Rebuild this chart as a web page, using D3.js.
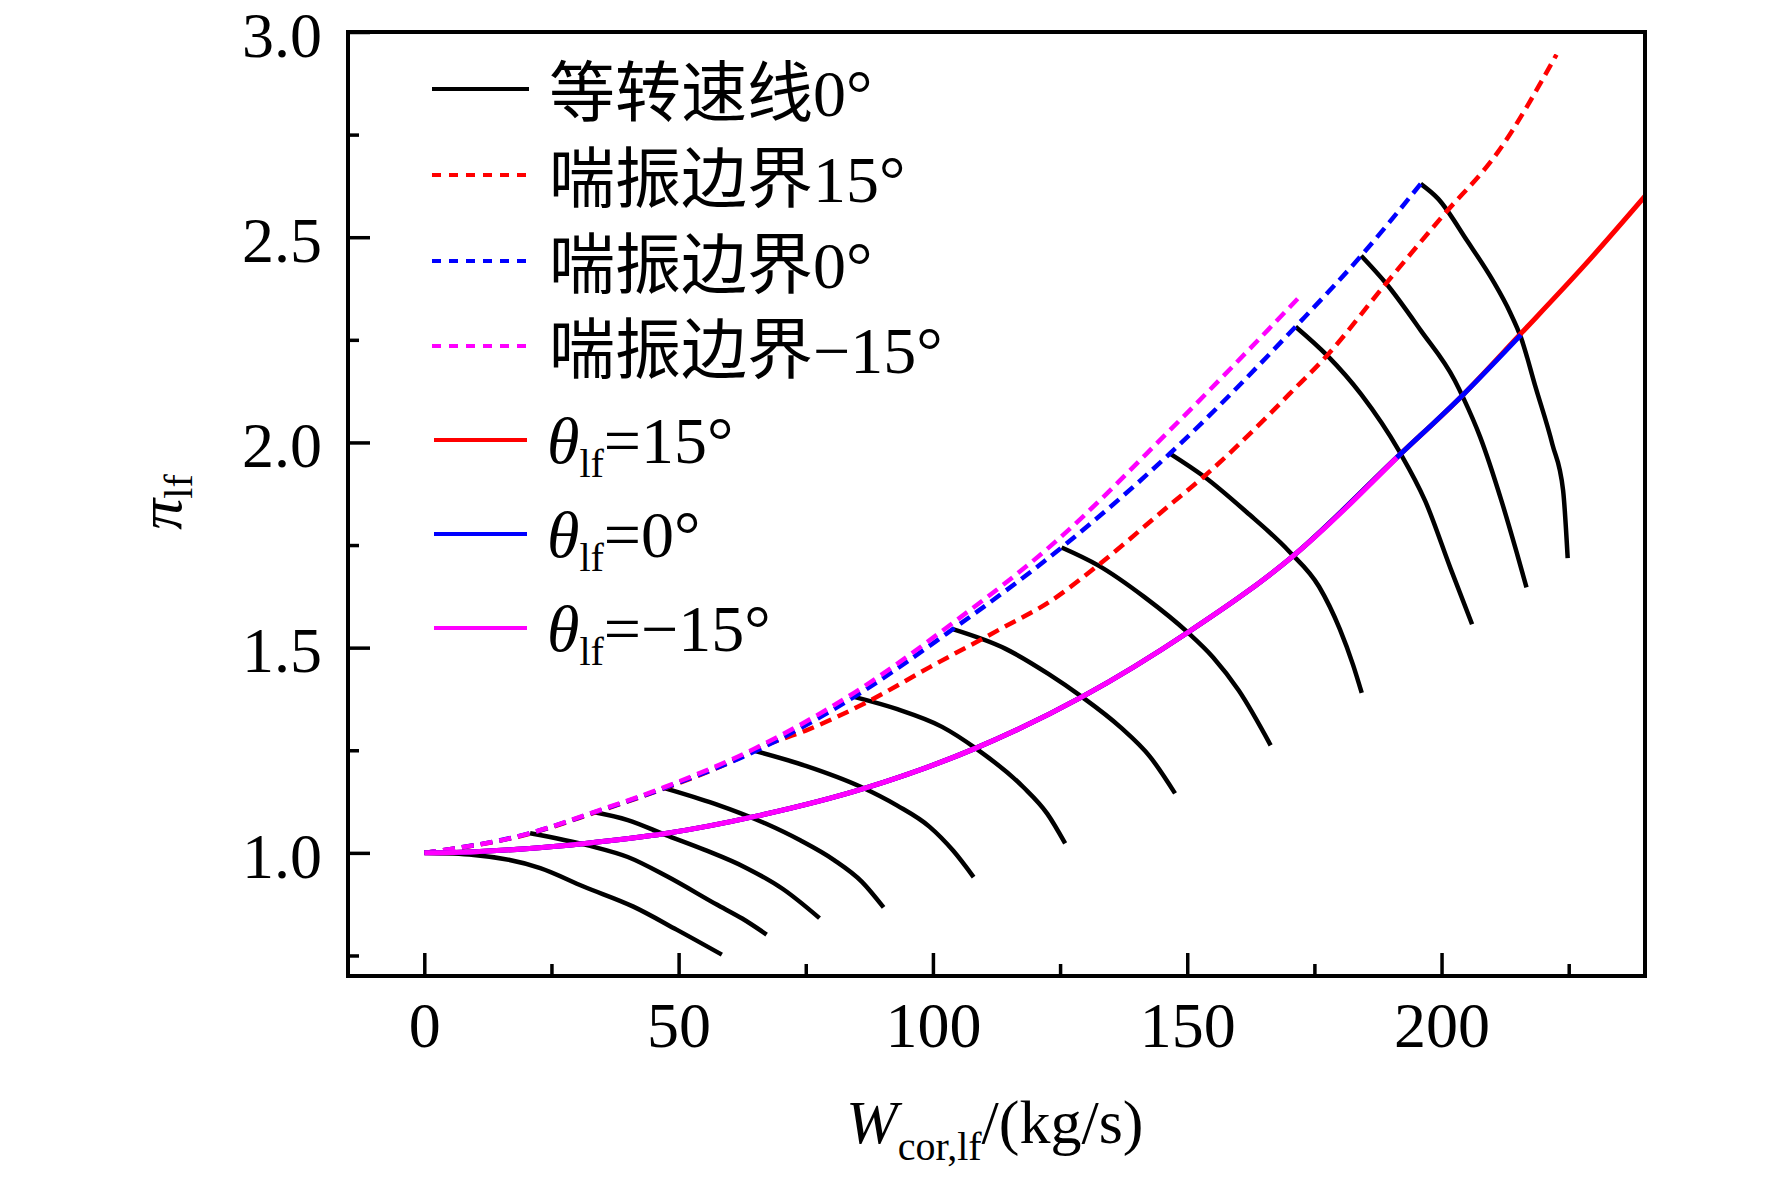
<!DOCTYPE html>
<html>
<head>
<meta charset="utf-8">
<script src="https://cdn.jsdelivr.net/npm/d3@7"></script>
<style>
  html, body { margin: 0; padding: 0; background: #fff; }
  svg { display: block; }
  text { font-family: "Liberation Serif", "Times New Roman", "Noto Sans CJK SC", serif; fill: #000; }
</style>
</head>
<body>
<svg id="chart" width="1772" height="1183"></svg>
<script>
// --- data: equal speed lines (W, pi) ---
const speedLine1  = [[0,1.0],[9.7,0.995],[22.8,0.963],[31.3,0.918],[41.1,0.869],[49.6,0.813],[58.5,0.752]];
const speedLine2  = [[20.8,1.048],[32.6,1.017],[40,0.99],[47.7,0.943],[57.5,0.874],[62.5,0.84],[67.3,0.801]];
const speedLine3  = [[33.5,1.099],[40,1.08],[47.4,1.044],[55,1.008],[63.2,0.964],[70.5,0.912],[77.7,0.841]];
const speedLine4  = [[47.2,1.158],[57,1.12],[67,1.072],[74,1.03],[80.5,0.983],[86,0.93],[90.3,0.867]];
const speedLine5  = [[65.1,1.248],[75,1.212],[85.8,1.161],[93,1.115],[99.3,1.064],[104,1.005],[108,0.941]];
const speedLine6  = [[84.5,1.38],[93,1.35],[101.8,1.307],[108.5,1.254],[117.7,1.161],[122.5,1.095],[126,1.023]];
const speedLine7  = [[103.9,1.545],[114.3,1.497],[122.7,1.436],[129.3,1.38],[136.8,1.307],[142.7,1.234],[147.6,1.145]];
const speedLine8  = [[125.3,1.744],[132.4,1.701],[141.6,1.623],[150.1,1.537],[155.1,1.476],[160.1,1.396],[166.4,1.262]];
const speedLine9  = [[146.6,1.973],[153.3,1.917],[161.6,1.831],[170,1.735],[175.9,1.649],[180,1.545],[182.6,1.458],[184.3,1.39]];
const speedLine10 = [[171.3,2.282],[177.5,2.212],[184.2,2.117],[191.7,1.978],[196.8,1.857],[201.8,1.692],[206,1.557]];
const speedLine11 = [[184.2,2.455],[189.2,2.386],[195.9,2.273],[202.6,2.151],[204.3,2.108],[207.6,2.013],[211.8,1.857],[214.7,1.735],[216.7,1.647]];
const speedLine12 = [[195.9,2.630],[199.3,2.594],[205.1,2.490],[210.1,2.394],[213.5,2.316],[215.6,2.256],[218.5,2.134],[221.8,1.995],[223.9,1.883],[224.8,1.718]];
const speedLines = [speedLine1, speedLine2, speedLine3, speedLine4, speedLine5, speedLine6,
                    speedLine7, speedLine8, speedLine9, speedLine10, speedLine11, speedLine12];

// surge boundaries
const surge15  = [[0,1],[20.8,1.047],[33.5,1.098],[47.2,1.157],[60,1.22],[67,1.262],[75,1.298],[87,1.367],[99.3,1.452],[113.2,1.545],[123.2,1.614],[132.4,1.70],[146.6,1.848],[153.3,1.917],[165.8,2.064],[170,2.117],[177.5,2.212],[188.4,2.377],[200.1,2.55],[211,2.706],[222.6,2.945]];
const surge0   = [[0,1],[20.8,1.048],[33.5,1.099],[47.2,1.158],[65.1,1.248],[84.5,1.38],[103.9,1.545],[125.3,1.744],[146.6,1.973],[171.3,2.282],[184.2,2.455],[195.9,2.63]];
const surgeM15 = [[0,1],[20.8,1.048],[33.5,1.10],[47.2,1.16],[65.1,1.255],[84.5,1.39],[103.9,1.56],[124,1.757],[146.6,2.03],[159,2.186],[172.1,2.355]];

// working lines
const work15  = [[0,1.0],[10,1.003],[20,1.01],[31.6,1.023],[47.4,1.047],[65.5,1.09],[86.5,1.157],[108.2,1.254],[129.3,1.38],[150.1,1.537],[170.5,1.72],[191.7,1.969],[204.3,2.117],[215.2,2.26],[228,2.43],[240,2.6]];
const work0   = [[0,1.0],[10,1.003],[20,1.01],[31.6,1.023],[47.4,1.047],[65.5,1.09],[86.5,1.157],[108.2,1.254],[129.3,1.38],[150.1,1.537],[170.5,1.72],[191.7,1.969],[204.3,2.117],[215.6,2.262]];
const workM15 = [[0,1.0],[10,1.003],[20,1.01],[31.6,1.023],[47.4,1.047],[65.5,1.09],[86.5,1.157],[108.2,1.254],[129.3,1.38],[150.1,1.537],[170.5,1.72],[191.2,1.963]];

const xMajor = [0, 50, 100, 150, 200];
const xMinor = [25, 75, 125, 175, 225];
const yMajor = [1.0, 1.5, 2.0, 2.5, 3.0];
const yMinor = [0.75, 1.25, 1.75, 2.25, 2.75];

const legendItems = [
  {label: "等转速线0°", color: "#000", dash: null},
  {label: "喘振边界15°", color: "#ff0000", dash: "9,8"},
  {label: "喘振边界0°", color: "#0000ff", dash: "9,8"},
  {label: "喘振边界−15°", color: "#ff00ff", dash: "9,8"},
  {theta: "=15°", color: "#ff0000"},
  {theta: "=0°", color: "#0000ff"},
  {theta: "=−15°", color: "#ff00ff"}
];

// --- layout ---
const svg = d3.select("#chart");
const plot = {left: 348, right: 1645, top: 32, bottom: 976};

const x = d3.scaleLinear().domain([-15, 240]).range([plot.left, plot.right]);
const y = d3.scaleLinear().domain([0.7, 3.0]).range([plot.bottom, plot.top]);

svg.append("defs").append("clipPath").attr("id", "plot-clip")
  .append("rect")
  .attr("x", plot.left).attr("y", plot.top)
  .attr("width", plot.right - plot.left).attr("height", plot.bottom - plot.top);

const line = d3.line()
  .x(d => x(d[0]))
  .y(d => y(d[1]))
  .curve(d3.curveMonotoneX);

const lines = svg.append("g").attr("clip-path", "url(#plot-clip)");

// equal speed lines
lines.selectAll(".speed")
  .data(speedLines)
  .enter().append("path")
  .attr("class", "speed")
  .attr("d", line)
  .attr("fill", "none")
  .attr("stroke", "#000")
  .attr("stroke-width", 4.5);

// surge lines (dashed)
[[surge15, "#ff0000"], [surge0, "#0000ff"], [surgeM15, "#ff00ff"]].forEach(([data, color]) => {
  lines.append("path")
    .attr("d", line(data))
    .attr("fill", "none")
    .attr("stroke", color)
    .attr("stroke-width", 4.5)
    .attr("stroke-dasharray", "12,7");
});

// working lines (solid)
[[work15, "#ff0000"], [work0, "#0000ff"], [workM15, "#ff00ff"]].forEach(([data, color]) => {
  lines.append("path")
    .attr("d", line(data))
    .attr("fill", "none")
    .attr("stroke", color)
    .attr("stroke-width", 5);
});

// --- axes ---
const fontSize = 64;

const xAxis = svg.append("g")
  .attr("transform", `translate(0,${plot.bottom})`)
  .call(d3.axisBottom(x).tickValues(xMajor).tickSize(-23).tickPadding(26).tickFormat(d3.format("d")));
const xAxisMinor = svg.append("g")
  .attr("transform", `translate(0,${plot.bottom})`)
  .call(d3.axisBottom(x).tickValues(xMinor).tickSize(-12).tickFormat(""));

const yAxis = svg.append("g")
  .attr("transform", `translate(${plot.left},0)`)
  .call(d3.axisLeft(y).tickValues(yMajor).tickSize(-22).tickPadding(26).tickFormat(d3.format(".1f")));
const yAxisMinor = svg.append("g")
  .attr("transform", `translate(${plot.left},0)`)
  .call(d3.axisLeft(y).tickValues(yMinor).tickSize(-11).tickFormat(""));

[xAxis, xAxisMinor, yAxis, yAxisMinor].forEach(a => {
  a.select(".domain").remove();
  a.selectAll(".tick line").attr("stroke", "#000").attr("stroke-width", 3.5);
  a.selectAll(".tick text")
    .attr("font-family", "'Liberation Serif', 'Times New Roman', serif")
    .attr("font-size", fontSize)
    .attr("fill", "#000");
});
yAxis.selectAll(".tick text").attr("dy", "0.38em");

// frame
svg.append("rect")
  .attr("x", plot.left).attr("y", plot.top)
  .attr("width", plot.right - plot.left).attr("height", plot.bottom - plot.top)
  .attr("fill", "none")
  .attr("stroke", "#000")
  .attr("stroke-width", 4);

// axis titles
const xTitle = svg.append("text")
  .attr("x", 846).attr("y", 1143)
  .attr("font-size", 62);
xTitle.append("tspan").attr("font-style", "italic").text("W");
xTitle.append("tspan").attr("font-size", 40).attr("dy", 17).text("cor,lf");
xTitle.append("tspan").attr("dy", -17).text("/(kg/s)");

const yTitle = svg.append("text")
  .attr("transform", "translate(181,502) rotate(-90)")
  .attr("text-anchor", "middle")
  .attr("font-size", 62);
yTitle.append("tspan").attr("font-style", "italic").text("π");
yTitle.append("tspan").attr("font-size", 40).attr("dy", 11).text("lf");

// --- legend ---
const legendY = [89, 175, 261, 346, 440, 534, 628];
const legend = svg.append("g");

legendItems.forEach((item, i) => {
  const ly = legendY[i];
  const isTheta = !!item.theta;
  const x0 = isTheta ? 434 : 432;
  const x1 = isTheta ? 527 : 529;
  legend.append("line")
    .attr("x1", x0).attr("x2", x1)
    .attr("y1", ly).attr("y2", ly)
    .attr("stroke", item.color)
    .attr("stroke-width", 4)
    .attr("stroke-dasharray", item.dash);

  if (isTheta) {
    const t = legend.append("text")
      .attr("x", 547).attr("y", ly + 23)
      .attr("font-size", 66);
    t.append("tspan").attr("font-style", "italic").text("θ");
    t.append("tspan").attr("font-size", 40).attr("dy", 14).text("lf");
    t.append("tspan").attr("dy", -14).text(item.theta);
  } else {
    legend.append("text")
      .attr("x", 549).attr("y", ly + 27)
      .attr("font-size", 66)
      .text(item.label);
  }
});
</script>
</body>
</html>
